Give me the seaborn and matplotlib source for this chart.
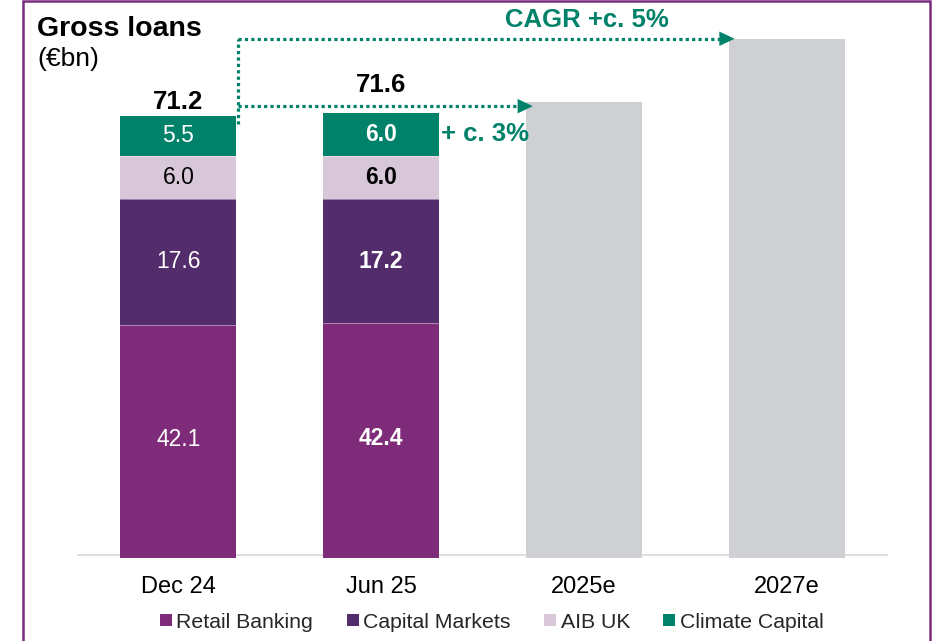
import matplotlib
matplotlib.use("Agg")
import matplotlib.pyplot as plt
import seaborn as sns
import pandas as pd
import numpy as np
from matplotlib.lines import Line2D
from matplotlib.patches import Rectangle

# ---------------- data ----------------
categories = ["Dec 24", "Jun 25", "2025e", "2027e"]
actual_periods = ["Dec 24", "Jun 25"]
segments = ["Retail Banking", "Capital Markets", "AIB UK", "Climate Capital"]
retail_banking = [42.1, 42.4]
capital_markets = [17.6, 17.2]
aib_uk = [6.0, 6.0]
climate_capital = [5.5, 6.0]
totals = [71.2, 71.6]
estimate_periods = ["2025e", "2027e"]
estimate_values = [73.2, 82.0]
growth_labels = ["+ c. 3%", "CAGR +c. 5%"]

# ---------------- style ----------------
sns.set_theme(style="white")
plt.rcParams["font.family"] = ["Liberation Sans", "DejaVu Sans"]

col_retail = "#7E2B7A"
col_capm = "#522C6B"
col_aib = "#D8C6D9"
col_climate = "#00826A"
col_grey = "#CFD0D4"
col_frame = "#7B2C7E"
green = "#00826A"
seg_colors = [col_retail, col_capm, col_aib, col_climate]
seg_text = ["white", "white", "black", "white"]
total_offsets = [1.5, 11.5]  # label offset above bar top (points)

W, H = 940, 641
fig = plt.figure(figsize=(W / 100, H / 100), dpi=100)
base_val = 10.0
y_lo, y_hi = 9.65, 85.0
px_per_unit = 7.17
ax_left, ax_right = 77 / W, 888 / W
ax_bottom_px = 555 + (base_val - y_lo) * px_per_unit
ax_h_px = (y_hi - y_lo) * px_per_unit
ax = fig.add_axes([ax_left, (H - ax_bottom_px) / H, ax_right - ax_left, ax_h_px / H])

bar_w = 0.573

# stacked bars via cumulative overlays (top segment first)
seg_vals = [retail_banking, capital_markets, aib_uk, climate_capital]
cum = np.cumsum(np.array(seg_vals), axis=0)
order = pd.CategoricalDtype(categories, ordered=True)
for i in reversed(range(len(segments))):
    df = pd.DataFrame({"period": pd.Categorical(actual_periods, dtype=order),
                       "value": cum[i]})
    sns.barplot(data=df, x="period", y="value", order=categories, color=seg_colors[i],
                width=bar_w, saturation=1, ax=ax, zorder=2, linewidth=0)

df_est = pd.DataFrame({"period": pd.Categorical(estimate_periods, dtype=order),
                       "value": estimate_values})
sns.barplot(data=df_est, x="period", y="value", order=categories, color=col_grey,
            width=bar_w, saturation=1, ax=ax, zorder=2, linewidth=0)

# thin segment separators
for j in range(len(actual_periods)):
    for i in range(len(segments) - 1):
        ax.plot([j - bar_w / 2, j + bar_w / 2], [cum[i][j], cum[i][j]],
                color="white", lw=0.6, alpha=0.5, zorder=3)

ax.axhline(base_val, color="#D9D9D9", lw=1.2, zorder=1)
ax.set_xlim(-0.5, 3.5)
ax.set_ylim(y_lo, y_hi)
ax.set_xlabel("")
ax.set_ylabel("")
ax.set_yticks([])
for s in ax.spines.values():
    s.set_visible(False)
ax.tick_params(axis="x", length=0, pad=13.5, labelsize=17, colors="black")
ax.set_facecolor("none")

# segment labels
for j in range(len(actual_periods)):
    weight = "normal" if j == 0 else "bold"
    prev = base_val
    for i in range(len(segments)):
        lo = prev
        hi = cum[i][j]
        ax.text(j, (lo + hi) / 2, f"{seg_vals[i][j]:.1f}", ha="center", va="center",
                color=seg_text[i], fontsize=16.5, fontweight=weight, zorder=5)
        prev = hi
    ax.annotate(f"{totals[j]:.1f}", xy=(j, cum[-1][j]), xytext=(0, total_offsets[j]),
                textcoords="offset points", ha="center", va="bottom",
                fontsize=18.5, fontweight="bold", color="black")

# growth arrows
x_start = 0 + bar_w / 2 + 0.007
y_low_arrow = estimate_values[0] - 0.6
y_up_arrow = estimate_values[1]
tip_low = 2 - bar_w / 2 + 0.035
tip_up = 3 - bar_w / 2 + 0.03
dot_kw = dict(color=green, lw=2.3, linestyle=(0, (1, 1)), solid_capstyle="butt",
              dash_capstyle="butt", zorder=6)
ax.plot([x_start, x_start], [cum[-1][0] - 1.1, y_up_arrow], **dot_kw)
ax.plot([x_start, tip_up - 0.06], [y_up_arrow, y_up_arrow], **dot_kw)
ax.plot([x_start, tip_low - 0.06], [y_low_arrow, y_low_arrow], **dot_kw)
for tip, yy in [(tip_low, y_low_arrow), (tip_up, y_up_arrow)]:
    ax.annotate("", xy=(tip, yy), xytext=(tip - 0.08, yy),
                arrowprops=dict(arrowstyle="-|>,head_length=0.55,head_width=0.26",
                                color=green, lw=0, shrinkA=0, shrinkB=0,
                                mutation_scale=20), zorder=7)

fig.text(441 / W, 1 - 134 / H, growth_labels[0], ha="left", va="center",
         fontsize=18.5, fontweight="bold", color=green)
fig.text(505 / W, 1 - 20 / H, growth_labels[1], ha="left", va="center",
         fontsize=18.5, fontweight="bold", color=green)

# title
fig.text(37 / W, 1 - 36 / H, "Gross loans", ha="left", va="baseline",
         fontsize=20.5, fontweight="bold", color="black")
fig.text(37 / W, 1 - 59 / H, "(€bn)", ha="left", va="center",
         fontsize=19, color="black")

# legend
handles = [Line2D([0], [0], marker="s", linestyle="none", markersize=8,
                  markerfacecolor=c, markeredgewidth=0) for c in seg_colors]
fig.legend(handles, segments, loc="center", bbox_to_anchor=(0.523, 1 - 622 / H),
           ncol=4, frameon=False, fontsize=15.3, handlelength=0.6,
           handletextpad=0.2, columnspacing=1.55, borderaxespad=0)

# purple frame
fig.patches.append(Rectangle((22.5 / W, -0.05), (930 - 22.5) / W, 1.05 - 1.5 / H,
                             transform=fig.transFigure, fill=False,
                             edgecolor=col_frame, lw=1.8, zorder=10))

fig.savefig("out.png", dpi=100)
